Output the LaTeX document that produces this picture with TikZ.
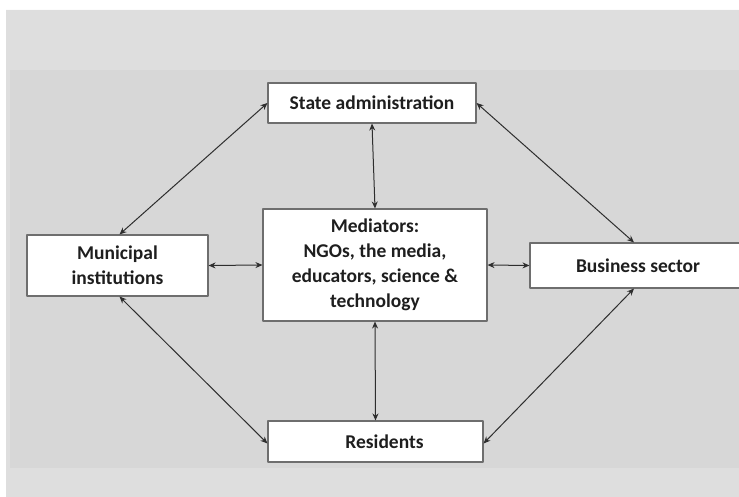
\documentclass[tikz,border=0pt]{standalone}
\usepackage{fontspec}
\setmainfont{Carlito}
\usetikzlibrary{arrows.meta}
\definecolor{bandgray}{HTML}{DEDEDE}
\definecolor{panelgray}{HTML}{D7D7D7}
\definecolor{boxline}{HTML}{6E6E6E}
\definecolor{linkline}{HTML}{2E2E2E}
\definecolor{inkgray}{HTML}{1E1E1E}
\tikzset{
  actor/.style={draw=boxline, fill=white, line width=1.1pt, inner sep=0pt,
    align=center, text=inkgray, font=\fontsize{19.5}{25}\selectfont\bfseries},
  link/.style={<->, draw=linkline, line width=1pt}
}
\begin{document}
\begin{tikzpicture}[x=1pt, y=-1pt, >={Stealth[length=7pt,width=6pt]}, line join=round]
	\useasboundingbox (0,0) rectangle (739,497);
	% background panels
	\fill[white] (0,0) rectangle (739,497);
	\fill[bandgray] (6,9) rectangle (739,497);
	\draw[white!90!bandgray, line width=1pt] (6,10) -- (739,10);
	\fill[panelgray] (10,70) rectangle (739,468);
	% boxes
	\node[actor, minimum width=208pt, minimum height=40pt] (state) at (372,103) {State administration};
	\node[actor, minimum width=224pt, minimum height=112pt] (med) at (375,265) {\rule{0pt}{6pt}Mediators:\\NGOs, the media,\\educators, science \&\\technology};
	\node[actor, minimum width=181pt, minimum height=61pt] (mun) at (117.5,265.5) {Municipal\\institutions};
	\node[actor, minimum width=216pt, minimum height=45pt] (biz) at (638,265.5) {Business sector};
	\node[actor, minimum width=215pt, minimum height=41pt] (res) at (375.5,441.5) {\hspace*{18pt}Residents};
	% links
	\draw[link] (state.south) -- (med.north);
	\draw[link] (med.south) -- (res.north);
	\draw[link] (mun.east) -- (med.west);
	\draw[link] (med.east) -- (biz.west);
	\draw[link] (state.west) -- ([xshift=2pt]mun.north);
	\draw[link] (state.east) -- ([xshift=-4pt]biz.north);
	\draw[link] ([xshift=2pt]mun.south) -- ([yshift=-2pt]res.west);
	\draw[link] ([xshift=-4pt]biz.south) -- ([yshift=-2pt]res.east);
\end{tikzpicture}
\end{document}
